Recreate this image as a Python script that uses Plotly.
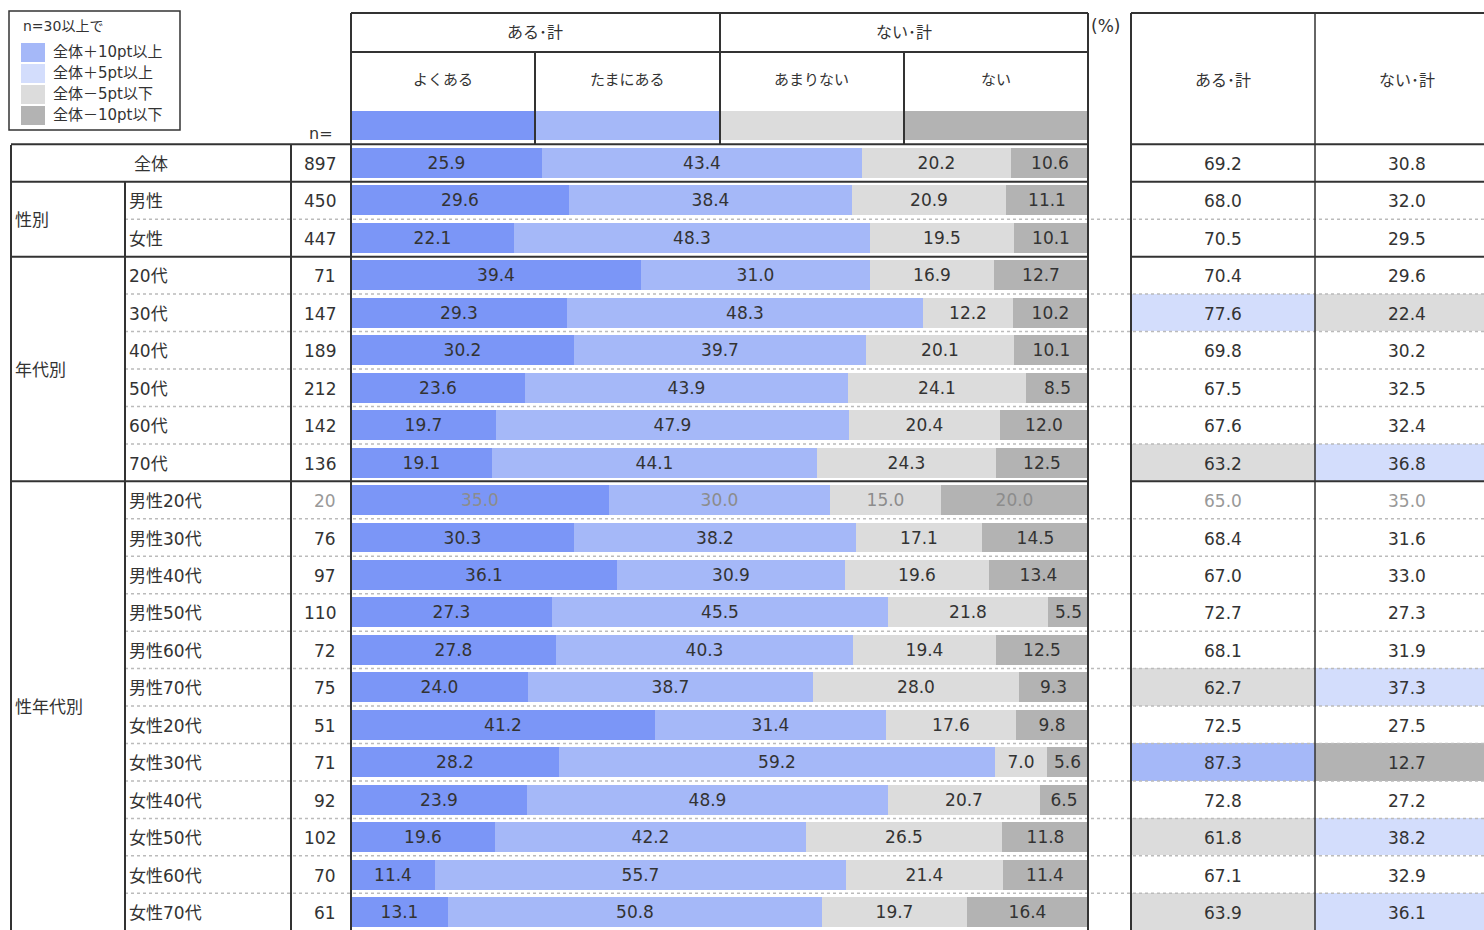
import plotly.graph_objects as go

# ---------------- data ----------------
row_labels = ["全体", "男性", "女性", "20代", "30代", "40代", "50代", "60代", "70代",
              "男性20代", "男性30代", "男性40代", "男性50代", "男性60代", "男性70代",
              "女性20代", "女性30代", "女性40代", "女性50代", "女性60代", "女性70代"]
group_labels = ["性別", "年代別", "性年代別"]
group_rows = [[1, 2], [3, 4, 5, 6, 7, 8], list(range(9, 21))]
n_values = [897, 450, 447, 71, 147, 189, 212, 142, 136,
            20, 76, 97, 110, 72, 75, 51, 71, 92, 102, 70, 61]
often = [25.9, 29.6, 22.1, 39.4, 29.3, 30.2, 23.6, 19.7, 19.1,
         35.0, 30.3, 36.1, 27.3, 27.8, 24.0, 41.2, 28.2, 23.9, 19.6, 11.4, 13.1]
sometimes = [43.4, 38.4, 48.3, 31.0, 48.3, 39.7, 43.9, 47.9, 44.1,
             30.0, 38.2, 30.9, 45.5, 40.3, 38.7, 31.4, 59.2, 48.9, 42.2, 55.7, 50.8]
rarely = [20.2, 20.9, 19.5, 16.9, 12.2, 20.1, 24.1, 20.4, 24.3,
          15.0, 17.1, 19.6, 21.8, 19.4, 28.0, 17.6, 7.0, 20.7, 26.5, 21.4, 19.7]
never = [10.6, 11.1, 10.1, 12.7, 10.2, 10.1, 8.5, 12.0, 12.5,
         20.0, 14.5, 13.4, 5.5, 12.5, 9.3, 9.8, 5.6, 6.5, 11.8, 11.4, 16.4]
aru_total = [69.2, 68.0, 70.5, 70.4, 77.6, 69.8, 67.5, 67.6, 63.2,
             65.0, 68.4, 67.0, 72.7, 68.1, 62.7, 72.5, 87.3, 72.8, 61.8, 67.1, 63.9]
nai_total = [30.8, 32.0, 29.5, 29.6, 22.4, 30.2, 32.5, 32.4, 36.8,
             35.0, 31.6, 33.0, 27.3, 31.9, 37.3, 27.5, 12.7, 27.2, 38.2, 32.9, 36.1]
series_names = ["よくある", "たまにある", "あまりない", "ない"]
header_key = [25, 25, 25, 25]
summary_names = ["ある･計", "ない･計"]
legend_title = "n=30以上で"
legend_labels = ["全体＋10pt以上", "全体＋5pt以上", "全体－5pt以下", "全体－10pt以下"]
min_n = 30

# ---------------- styles ----------------
W, H = 1484, 930
FONT = "DejaVu Sans, Noto Sans CJK JP"
TXT = "#333333"
GRAY_TXT = "#999999"
bar_colors = ["#7b96f7", "#a5b8f8", "#dcdcdc", "#b3b3b3"]
hl_colors = ["#ffffff", "#d3ddfc", "#a5b8f8", "#dcdcdc", "#b3b3b3"]  # none,+5,+10,-5,-10
legend_sw = [hl_colors[2], hl_colors[1], hl_colors[3], hl_colors[4]]
LINE = "#333333"
DOT = "#bbbbbb"

NROW = len(row_labels)
rows = list(range(NROW))
Y_TOP, Y_BOT = -4.3525, 20.48   # y-axis range (reversed)


def px(x):
    return x / W


def py(y):
    return 1 - y / H


def cls(v, base, nn):
    if nn < min_n:
        return 0
    d = round(v - base, 1)
    if d >= 10:
        return 2
    if d >= 5:
        return 1
    if d <= -10:
        return 4
    if d <= -5:
        return 3
    return 0


fig = go.Figure()

# header key bar (row -1)
for i, nm in enumerate(series_names):
    fig.add_trace(go.Bar(x=[header_key[i]], y=[-1], orientation="h", width=0.78,
                         marker=dict(color=bar_colors[i], line=dict(width=0)),
                         showlegend=False, hoverinfo="skip"))

# main stacked bars
txt_col = [GRAY_TXT if nn < min_n else TXT for nn in n_values]
bar_txt_col = ["#8c8c8c" if nn < min_n else TXT for nn in n_values]
for i, (nm, vals) in enumerate(zip(series_names, [often, sometimes, rarely, never])):
    fig.add_trace(go.Bar(
        x=vals, y=rows, orientation="h", width=0.8, name=nm,
        marker=dict(color=bar_colors[i], line=dict(width=0)),
        text=[f"{v:.1f}" for v in vals], textposition="inside",
        insidetextanchor="middle", constraintext="none",
        textfont=dict(family=FONT, size=17, color=bar_txt_col),
        showlegend=False, hoverinfo="skip"))

# summary table cells (heatmap) on x2
z = []
for r in rows:
    z.append([cls(aru_total[r], aru_total[0], n_values[r]),
              cls(nai_total[r], nai_total[0], n_values[r])])
cs = [[0, hl_colors[0]], [0.125, hl_colors[0]], [0.125, hl_colors[1]], [0.375, hl_colors[1]],
      [0.375, hl_colors[2]], [0.625, hl_colors[2]], [0.625, hl_colors[3]], [0.875, hl_colors[3]],
      [0.875, hl_colors[4]], [1, hl_colors[4]]]
fig.add_trace(go.Heatmap(z=z, x=[0.5, 1.5], y=rows, zmin=0, zmax=4, colorscale=cs,
                         showscale=False, xaxis="x2", yaxis="y", hoverinfo="skip"))

ann = []


def text(x, y, s, size=17, anchor="center", color=TXT, yref="paper", xref="paper", ys=0):
    ann.append(dict(x=x, y=y, xref=xref, yref=yref, text=s, showarrow=False,
                    xanchor=anchor, yanchor="middle", yshift=ys, borderpad=0, borderwidth=0,
                    font=dict(family=FONT, size=size, color=color)))


# summary values
for j, vals in enumerate([aru_total, nai_total]):
    for r in rows:
        text(j + 0.5, r, f"{vals[r]:.1f}", xref="x2", yref="y", color=txt_col[r], ys=-1)

# left table labels
text(px(151), 0, row_labels[0], yref="y", ys=-1)
text(px(336), 0, str(n_values[0]), anchor="right", yref="y", ys=-1)
for r in rows[1:]:
    text(px(128.5), r, row_labels[r], anchor="left", yref="y", color=TXT, ys=-1)
    text(px(336), r, str(n_values[r]), anchor="right", yref="y", color=txt_col[r], ys=-1)
for g, rs in zip(group_labels, group_rows):
    text(px(15), (rs[0] + rs[-1]) / 2, g, anchor="left", yref="y", ys=-1)

# header texts
text(px(535), py(32), summary_names[0], size=16)
text(px(904), py(32), summary_names[1], size=16)
for i, nm in enumerate(series_names):
    text(px(351 + 184.25 * i + 92), py(80), nm, size=15)
text(px(1223), py(80), summary_names[0], size=16)
text(px(1407), py(80), summary_names[1], size=16)
text(px(1091), py(26), "(%)", size=17, anchor="left")
text(px(321), py(133), "n=", size=16)

# legend
text(px(23), py(26), legend_title, size=14, anchor="left")
shapes = []
sw_top = [43, 64, 85, 106]
for i, lab in enumerate(legend_labels):
    shapes.append(dict(type="rect", xref="paper", yref="paper", x0=px(21), x1=px(45),
                       y0=py(sw_top[i]), y1=py(sw_top[i] + 19), fillcolor=legend_sw[i],
                       line=dict(width=0), layer="above"))
    text(px(53), py(sw_top[i] + 9.5), lab, size=15, anchor="left")
shapes.append(dict(type="rect", xref="paper", yref="paper", x0=px(9), x1=px(180),
                   y0=py(11), y1=py(130), line=dict(color=LINE, width=1.5)))


def hline(x0, x1, y, yref="paper", color=LINE, width=2, dash="solid"):
    shapes.append(dict(type="line", xref="paper", yref=yref, x0=px(x0), x1=px(x1),
                       y0=y, y1=y, line=dict(color=color, width=width, dash=dash)))


def vline(x, y0, y1, color=LINE, width=2):
    shapes.append(dict(type="line", xref="paper", yref="paper", x0=px(x), x1=px(x),
                       y0=py(y0), y1=py(y1), line=dict(color=color, width=width)))


# dotted row separators
group_breaks = {-0.5, 0.5, 2.5, 8.5}
for r in rows[1:-1]:
    b = r + 0.5
    if b not in group_breaks:
        hline(125, W, b, yref="y", color=DOT, width=1.5, dash="dot")

# solid horizontal lines
hline(351, 1088, py(13))
hline(351, 1088, py(52))
hline(1131, W, py(13))
for b in sorted(group_breaks):
    hline(11, 1088, b, yref="y")
    hline(1131, W, b, yref="y")

# verticals
vline(351, 13, H)
vline(1088, 13, H)
vline(720, 13, 145)
vline(535, 52, 145)
vline(904, 52, 145)
vline(1131, 13, H)
vline(1315, 13, H, width=1.5)
vline(11, 145, H)
vline(291, 145, H)
vline(125, 182, H)

fig.update_layout(
    width=W, height=H, autosize=False,
    margin=dict(l=0, r=0, t=0, b=0),
    paper_bgcolor="white", plot_bgcolor="white",
    barmode="stack", bargap=0,
    showlegend=False,
    xaxis=dict(domain=[px(351), px(1088)], range=[0, 100], visible=False, fixedrange=True),
    xaxis2=dict(domain=[px(1131), 1], range=[0, (W - 1131) / 184], visible=False,
                anchor="y", fixedrange=True),
    yaxis=dict(domain=[0, 1], range=[Y_BOT, Y_TOP], visible=False, fixedrange=True),
    annotations=ann, shapes=shapes,
    font=dict(family=FONT, color=TXT),
)

fig.write_html("out.html", config={"displayModeBar": False},
               post_script="document.body.style.margin='0';document.body.style.overflow='hidden';")
